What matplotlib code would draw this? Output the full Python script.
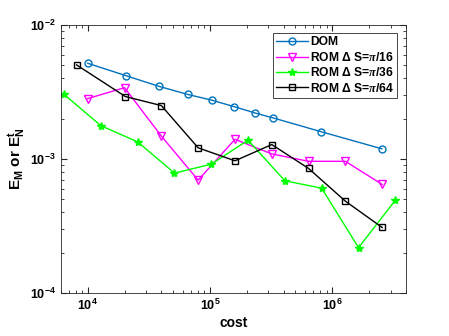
import matplotlib
matplotlib.use("Agg")
import matplotlib.pyplot as plt
from matplotlib.ticker import LogLocator, NullFormatter

plt.rcParams['font.family'] = ['Liberation Sans', 'DejaVu Sans']
plt.rcParams['font.weight'] = 'bold'
plt.rcParams['mathtext.fontset'] = 'custom'
plt.rcParams['mathtext.rm'] = 'Liberation Sans:bold'
plt.rcParams['mathtext.bf'] = 'Liberation Sans:bold'
plt.rcParams['mathtext.it'] = 'Liberation Serif:italic'

# DOM
cost_dom = [1.0e4, 2.05e4, 3.82e4, 6.55e4, 1.04e5, 1.585e5, 2.34e5, 3.3e5, 8.03e5, 2.54e6]
err_dom = [5.17e-3, 4.18e-3, 3.48e-3, 3.03e-3, 2.74e-3, 2.45e-3, 2.20e-3, 2.02e-3, 1.60e-3, 1.19e-3]

# ROM dS = pi/16
cost_16 = [1.0e4, 2.0e4, 4.0e4, 8.0e4, 1.6e5, 3.2e5, 6.4e5, 1.28e6, 2.56e6]
err_16 = [2.82e-3, 3.40e-3, 1.48e-3, 6.95e-4, 1.40e-3, 1.09e-3, 9.6e-4, 9.6e-4, 6.45e-4]

# ROM dS = pi/36
cost_36 = [6.4e3, 1.28e4, 2.56e4, 5.12e4, 1.024e5, 2.048e5, 4.096e5, 8.19e5, 1.64e6, 3.28e6]
err_36 = [3.03e-3, 1.77e-3, 1.34e-3, 7.84e-4, 9.14e-4, 1.38e-3, 6.87e-4, 6.05e-4, 2.18e-4, 4.92e-4]

# ROM dS = pi/64
cost_64 = [8.1e3, 2.03e4, 4.0e4, 8.0e4, 1.6e5, 3.2e5, 6.4e5, 1.28e6, 2.56e6]
err_64 = [5.03e-3, 2.92e-3, 2.50e-3, 1.21e-3, 9.68e-4, 1.28e-3, 8.49e-4, 4.84e-4, 3.08e-4]

fig = plt.figure(figsize=(4.49, 3.36), dpi=100)
ax = fig.add_axes([0.135, 0.128, 0.769, 0.798])

ax.loglog(cost_dom, err_dom, '-o', color=(0, 0.447, 0.741), mfc='none', ms=5, lw=1, label='DOM')
ax.loglog(cost_16, err_16, '-v', color='#ff00ff', mfc='none', ms=6, lw=1, label=r'ROM $\Delta$ S=$\pi$/16')
ax.loglog(cost_36, err_36, '-*', color='#00ff00', ms=6, lw=1, label=r'ROM $\Delta$ S=$\pi$/36')
ax.loglog(cost_64, err_64, '-s', color='k', mfc='none', ms=5, lw=1, label=r'ROM $\Delta$ S=$\pi$/64')

ax.set_xlim(6e3, 4e6)
ax.set_ylim(1e-4, 1e-2)
ax.xaxis.set_major_locator(LogLocator(base=10, numticks=10))
ax.xaxis.set_minor_locator(LogLocator(base=10, subs=range(2, 10), numticks=20))
ax.xaxis.set_minor_formatter(NullFormatter())
ax.yaxis.set_minor_formatter(NullFormatter())

ax.tick_params(which='both', direction='in', top=True, right=True, colors='0.15', labelcolor='k', labelsize=9)
ax.tick_params(which='major', length=4)
ax.tick_params(which='minor', length=2)
for s in ax.spines.values():
    s.set_color('0.15')
    s.set_linewidth(0.6)

ax.set_xlabel('cost', fontsize=10, fontweight='bold', labelpad=2)
ax.set_ylabel(r'E$_\mathbf{M}$ or E$_\mathbf{N}^\mathbf{t}$', fontsize=11, fontweight='bold', labelpad=2)

leg = ax.legend(loc='upper right', fontsize=8.7, fancybox=False, framealpha=1,
                edgecolor='0.15', borderaxespad=0.7, handlelength=2.6,
                labelspacing=0.2, borderpad=0.25, handletextpad=0.2)
leg.get_frame().set_linewidth(0.6)

fig.savefig('out.png', dpi=100)
